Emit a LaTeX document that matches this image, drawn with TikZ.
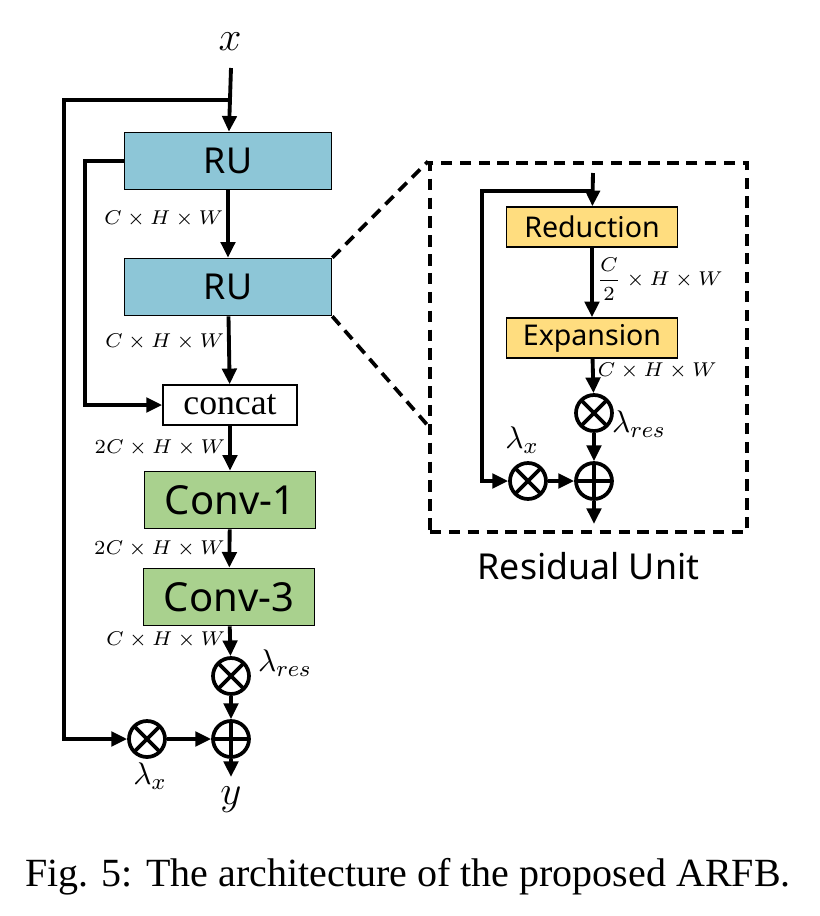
\documentclass[tikz,border=0pt]{standalone}
\usepackage{fontspec}
\setmainfont{Liberation Serif}
\newfontfamily\blockfont{Noto Sans}
\usetikzlibrary{arrows.meta,positioning}

\definecolor{rublue}{HTML}{8DC6D7}
\definecolor{convgreen}{HTML}{A9D18E}
\definecolor{unityellow}{HTML}{FFDD7F}

\begin{document}
\begin{tikzpicture}[
    x=0.35pt, y=-0.35pt,
    block/.style={draw, line width=0.5pt, inner sep=0pt, align=center},
    rublock/.style={block, fill=rublue, minimum width=72.5pt, minimum height=20pt, font=\blockfont\fontsize{12.5}{14}\selectfont},
    convblock/.style={block, fill=convgreen, minimum width=60pt, minimum height=20pt, font=\blockfont\fontsize{14}{16}\selectfont},
    unitblock/.style={block, fill=unityellow, minimum width=60pt, minimum height=14pt, font=\blockfont\fontsize{10}{12}\selectfont},
    catblock/.style={block, fill=white, minimum width=47pt, minimum height=14pt, font=\fontsize{12.5}{14}\selectfont},
    mul/.style={circle, draw, line width=1.3pt, minimum size=12.6pt, inner sep=0pt,
        path picture={\draw[line width=1.3pt] (path picture bounding box.south west) -- (path picture bounding box.north east)
            (path picture bounding box.north west) -- (path picture bounding box.south east);}},
    add/.style={circle, draw, line width=1.3pt, minimum size=12.6pt, inner sep=0pt,
        path picture={\draw[line width=1.3pt] (path picture bounding box.north) -- (path picture bounding box.south)
            (path picture bounding box.west) -- (path picture bounding box.east);}},
    dimlabel/.style={font=\fontsize{7.5}{8}\selectfont, inner sep=1pt},
    lam/.style={font=\fontsize{11}{12}\selectfont, inner sep=0pt},
    arrow/.style={-{Triangle[length=5.5pt, width=5pt]}, line width=1.35pt},
    line/.style={line width=1.35pt},
    zoomline/.style={line width=1.3pt, dash pattern=on 4pt off 2.6pt}
]
\useasboundingbox (0,0) rectangle (820,916);

% main block
\node[font=\fontsize{15}{16}\selectfont] (xin) at (230,42) {$x$};
\coordinate (in) at (231,68);
\coordinate (split) at (231,100);
\coordinate (rail) at (64,100);
\coordinate (rail2) at (85,161);

\node[rublock] (ru1) at (228,161) {RU};
\node[rublock] (ru2) at (228,287) {RU};
\node[catblock] (concat) at (230,405) {concat};
\node[convblock] (conv1) at (230,500) {Conv-1};
\node[convblock] (conv3) at (229,597) {Conv-3};
\node[mul] (mulres) at (231,676) {};
\node[add] (sum) at (231,739) {};
\node[mul] (mulx) at (147,739) {};
\node[font=\fontsize{15}{16}\selectfont] (yout) at (231,800) {$y$};

\node[lam] (lres) at (285,663) {$\lambda_{res}$};
\node[lam] (lx) at (150,776) {$\lambda_{x}$};

\draw[arrow] (in) -- (ru1);
\draw[arrow] (split) -- (rail) |- (mulx);
\draw[arrow] (ru1) -- node[dimlabel, left, pos=0.42] {$C\times H\times W$} (ru2);
\draw[arrow] (ru1.west) -- (rail2) |- (concat);
\draw[arrow] (ru2) -- node[dimlabel, left, pos=0.38] {$C\times H\times W$} (concat);
\draw[arrow] (concat) -- node[dimlabel, left, pos=0.5] {$2C\times H\times W$} (conv1);
\draw[arrow] (conv1) -- node[dimlabel, left, pos=0.5] {$2C\times H\times W$} (conv3);
\draw[arrow] (conv3) -- node[dimlabel, left, pos=0.45] {$C\times H\times W$} (mulres);
\draw[arrow] (mulres) -- (sum);
\draw[arrow] (mulx) -- (sum);
\draw[arrow] (sum) -- (yout);

% residual unit
\node[draw, zoomline, minimum width=111pt, minimum height=129pt, inner sep=0pt] (rubox) at (588.5,347.5) {};
\node[font=\blockfont\fontsize{12.5}{14}\selectfont, below=3pt of rubox] (rutitle) {Residual Unit};
\coordinate (zoomlow) at (430,428);
\draw[zoomline] (ru2.north east) -- (rubox.north west);
\draw[zoomline] (ru2.south east) -- (zoomlow);

\coordinate (uin) at (593,173);
\coordinate (usplit) at (593,191);
\coordinate (urail) at (482,191);
\node[unitblock] (red) at (592,227) {Reduction};
\node[unitblock] (exp) at (592,338) {Expansion};
\node[mul] (umulres) at (594,413) {};
\node[add] (usum) at (594,481) {};
\node[mul] (umulx) at (528,481) {};
\coordinate (uout) at (594,524);

\node[lam] (ulres) at (639,424) {$\lambda_{res}$};
\node[lam] (ulx) at (522,440) {$\lambda_{x}$};

\draw[arrow] (uin) -- (red);
\draw[arrow] (usplit) -- (urail) |- (umulx);
\draw[arrow] (red) -- node[dimlabel, right, pos=0.45] {$\displaystyle\frac{C}{2}\times H\times W$} (exp);
\draw[arrow] (exp) -- node[dimlabel, right, pos=0.35] {$C\times H\times W$} (umulres);
\draw[arrow] (umulres) -- (usum);
\draw[arrow] (umulx) -- (usum);
\draw[arrow] (usum) -- (uout);

% caption
\node[font=\fontsize{14}{16}\selectfont] (caption) at (408,877) {Fig. 5: The architecture of the proposed ARFB.};
\end{tikzpicture}
\end{document}
